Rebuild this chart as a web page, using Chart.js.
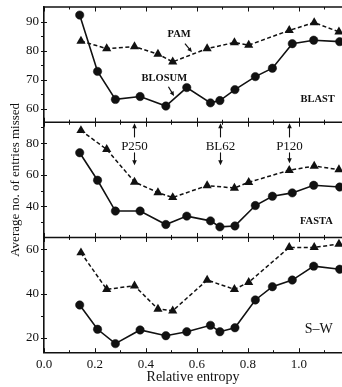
<!DOCTYPE html>
<html>
<head>
<meta charset="utf-8">
<script src="https://cdn.jsdelivr.net/npm/chart.js@4.4.1/dist/chart.umd.min.js"></script>
<style>
html, body { margin: 0; padding: 0; background: #fff; }
</style>
</head>
<body>
<canvas id="chart" width="342" height="387"></canvas>
<script>
// relative entropy of each matrix (BLOSUM = circles, PAM = triangles)
const blosum_entropy = [0.14, 0.21, 0.28, 0.377, 0.478, 0.56, 0.653, 0.69, 0.749, 0.829, 0.896, 0.974, 1.058, 1.16]
const pam_entropy = [0.145, 0.246, 0.355, 0.447, 0.505, 0.64, 0.747, 0.803, 0.962, 1.06, 1.157]

const blast_blosum = [92.4, 72.9, 63.2, 64.2, 60.9, 67.3, 62.0, 62.8, 66.6, 71.1, 74.0, 82.5, 83.7, 83.2]
const blast_pam = [83.4, 80.8, 81.5, 78.9, 76.2, 80.8, 82.9, 82.0, 87.1, 89.8, 86.6]
const fasta_blosum = [73.9, 56.5, 37.0, 37.0, 28.5, 33.8, 30.8, 27.0, 27.6, 40.5, 46.4, 48.5, 53.3, 52.2]
const fasta_pam = [88.0, 76.0, 55.4, 48.7, 45.6, 53.1, 51.6, 55.2, 62.8, 65.5, 63.2]
const sw_blosum = [34.8, 23.8, 17.3, 23.5, 20.9, 22.7, 25.6, 22.7, 24.5, 37.1, 43.1, 46.1, 52.4, 51.0]
const sw_pam = [58.5, 41.9, 43.5, 33.0, 32.2, 46.1, 41.9, 45.1, 60.9, 60.9, 62.4]

const x_ticks = [0, 0.2, 0.4, 0.6, 0.8, 1.0]
const x_minor = [0.1, 0.3, 0.5, 0.7, 0.9, 1.1]
const blast_ticks = [60, 70, 80, 90]
const blast_minor = [65, 75, 85]
const fasta_ticks = [40, 60, 80]
const fasta_minor = [30, 50, 70, 90]
const sw_ticks = [20, 40, 60]
const sw_minor = [30, 50]

const INK = '#111'
const SERIF = '"Liberation Serif", "DejaVu Serif", serif'

function points(xs, ys) {
    return xs.map((x, i) => ({ x: x, y: ys[i] }))
}

function blosum_set(ys, axis) {
    return {
        data: points(blosum_entropy, ys), yAxisID: axis,
        borderColor: INK, backgroundColor: INK, borderWidth: 1.6,
        pointStyle: 'circle', pointRadius: 4.2, pointBorderWidth: 0.5,
    }
}

function pam_set(ys, axis) {
    return {
        data: points(pam_entropy, ys), yAxisID: axis,
        borderColor: INK, backgroundColor: INK, borderWidth: 1.5, borderDash: [4, 2.5],
        pointStyle: 'triangle', pointRadius: 5.3, pointBorderWidth: 0,
    }
}

function no_edge_padding(s) {
    s.paddingTop = 0; s.paddingBottom = 0; s.paddingLeft = 0; s.paddingRight = 0
}

function y_axis(min, max, ticks) {
    return {
        type: 'linear', position: 'left', stack: 'panels', stackWeight: 1,
        min: min, max: max,
        afterBuildTicks: (s) => { s.ticks = ticks.map((v) => ({ value: v })) },
        afterFit: (s) => { s.width = 44; no_edge_padding(s) },
        grid: { drawOnChartArea: false, drawTicks: false },
        border: { color: INK, width: 1.6 },
        ticks: { color: INK, padding: 5, font: { family: SERIF, size: 13 } },
    }
}

function line(ctx, x0, y0, x1, y1) {
    ctx.beginPath(); ctx.moveTo(x0, y0); ctx.lineTo(x1, y1); ctx.stroke()
}

function arrow(ctx, x0, y0, x1, y1, head, half) {
    const a = Math.atan2(y1 - y0, x1 - x0)
    line(ctx, x0, y0, x1 - Math.cos(a) * head * 0.6, y1 - Math.sin(a) * head * 0.6)
    ctx.beginPath()
    ctx.moveTo(x1, y1)
    ctx.lineTo(x1 - Math.cos(a) * head - Math.sin(a) * half, y1 - Math.sin(a) * head + Math.cos(a) * half)
    ctx.lineTo(x1 - Math.cos(a) * head + Math.sin(a) * half, y1 - Math.sin(a) * head - Math.cos(a) * half)
    ctx.closePath(); ctx.fill()
}

const decorations = {
    id: 'decorations',
    afterDraw(chart) {
        const ctx = chart.ctx
        const area = chart.chartArea
        const xs = chart.scales.x
        const X = (v) => xs.getPixelForValue(v)
        const panels = [
            ['yBlast', blast_ticks, blast_minor],
            ['yFasta', fasta_ticks, fasta_minor],
            ['ySw', sw_ticks, sw_minor],
        ]
        ctx.save()
        ctx.strokeStyle = INK
        ctx.fillStyle = INK

        // panel frames and inward ticks
        panels.forEach(([id, major, minor]) => {
            const ys = chart.scales[id]
            ctx.lineWidth = 1.6
            line(ctx, area.left - 0.8, ys.top, area.right, ys.top)
            ctx.lineWidth = 1
            x_ticks.concat(x_minor).forEach((v) => {
                const len = x_ticks.includes(v) ? 4.5 : 2.5
                const px = Math.round(X(v)) + 0.5
                line(ctx, px, ys.bottom, px, ys.bottom - len)
                line(ctx, px, ys.top, px, ys.top + len)
            })
            major.forEach((v) => {
                const py = Math.round(ys.getPixelForValue(v)) + 0.5
                line(ctx, area.left - 3, py, area.left + 3, py)
            })
            minor.forEach((v) => {
                const py = Math.round(ys.getPixelForValue(v)) + 0.5
                line(ctx, area.left - 3, py, area.left, py)
            })
        })

        // y title
        ctx.save()
        ctx.translate(16, (area.top + area.bottom) / 2)
        ctx.rotate(-Math.PI / 2)
        ctx.font = '13px ' + SERIF
        ctx.textAlign = 'center'
        ctx.textBaseline = 'middle'
        ctx.fillText('Average no. of entries missed', 0, 0)
        ctx.restore()

        const yb = chart.scales.yBlast, yf = chart.scales.yFasta, ysw = chart.scales.ySw

        // series labels
        ctx.font = 'bold 10.5px ' + SERIF
        ctx.textBaseline = 'middle'
        ctx.textAlign = 'center'
        ctx.fillText('PAM', X(0.53), yb.getPixelForValue(85.8))
        ctx.fillText('BLOSUM', X(0.472), yb.getPixelForValue(70.6))
        ctx.lineWidth = 1.2
        arrow(ctx, X(0.553), yb.getPixelForValue(82.5), X(0.58), yb.getPixelForValue(79.6), 4.5, 2.2)
        arrow(ctx, X(0.488), yb.getPixelForValue(67.6), X(0.51), yb.getPixelForValue(64.4), 4.5, 2.2)

        ctx.textAlign = 'right'
        ctx.fillText('BLAST', X(1.141), yb.getPixelForValue(63.4))
        ctx.fillText('FASTA', X(1.133), yf.getPixelForValue(30.6))
        ctx.font = '14px ' + SERIF
        ctx.fillText('S\u2013W', X(1.133), ysw.getPixelForValue(23.6))

        // matrix markers in the FASTA panel
        ctx.font = '13px ' + SERIF
        ctx.textAlign = 'center'
        const marks = [['P250', pam_entropy[2], 66.0], ['BL62', blosum_entropy[7], 66.0], ['P120', pam_entropy[8], 67.2]]
        marks.forEach(([name, v, tip]) => {
            const px = Math.round(X(v)) + 0.5
            ctx.fillText(name, px, yf.getPixelForValue(77.9))
            ctx.lineWidth = 1.1
            arrow(ctx, px, yf.getPixelForValue(83.6), px, yf.getPixelForValue(92.6), 5, 2.3)
            arrow(ctx, px, yf.getPixelForValue(74.1), px, yf.getPixelForValue(tip), 5, 2.3)
        })
        ctx.restore()
    }
}

const chart = new Chart(document.querySelector('#chart'), {
    type: 'line',
    data: {
        datasets: [
            blosum_set(blast_blosum, 'yBlast'), pam_set(blast_pam, 'yBlast'),
            blosum_set(fasta_blosum, 'yFasta'), pam_set(fasta_pam, 'yFasta'),
            blosum_set(sw_blosum, 'ySw'), pam_set(sw_pam, 'ySw'),
        ],
    },
    options: {
        responsive: false,
        animation: false,
        events: [],
        layout: { autoPadding: false, padding: { top: 7, right: 0, left: 0, bottom: 0 } },
        plugins: { legend: { display: false }, tooltip: { enabled: false } },
        scales: {
            x: {
                type: 'linear', position: 'bottom', min: 0, max: 1.169,
                afterBuildTicks: (s) => { s.ticks = x_ticks.map((v) => ({ value: v })) },
                afterFit: (s) => { s.height = 34.3; no_edge_padding(s) },
                grid: { drawOnChartArea: false, drawTicks: false },
                border: { color: INK, width: 1.6 },
                ticks: {
                    color: INK, padding: 4, maxRotation: 0, autoSkip: false,
                    font: { family: SERIF, size: 13 },
                    callback: (v) => v.toFixed(1),
                },
                title: {
                    display: true, text: 'Relative entropy', color: INK,
                    padding: { top: 0, bottom: 1 }, font: { family: SERIF, size: 14 },
                },
            },
            ySw: y_axis(13.2, 65.4, sw_ticks),
            yFasta: y_axis(20.3, 93.2, fasta_ticks),
            yBlast: y_axis(55.3, 95.2, blast_ticks),
        },
    },
    plugins: [decorations],
})
</script>
</body>
</html>
